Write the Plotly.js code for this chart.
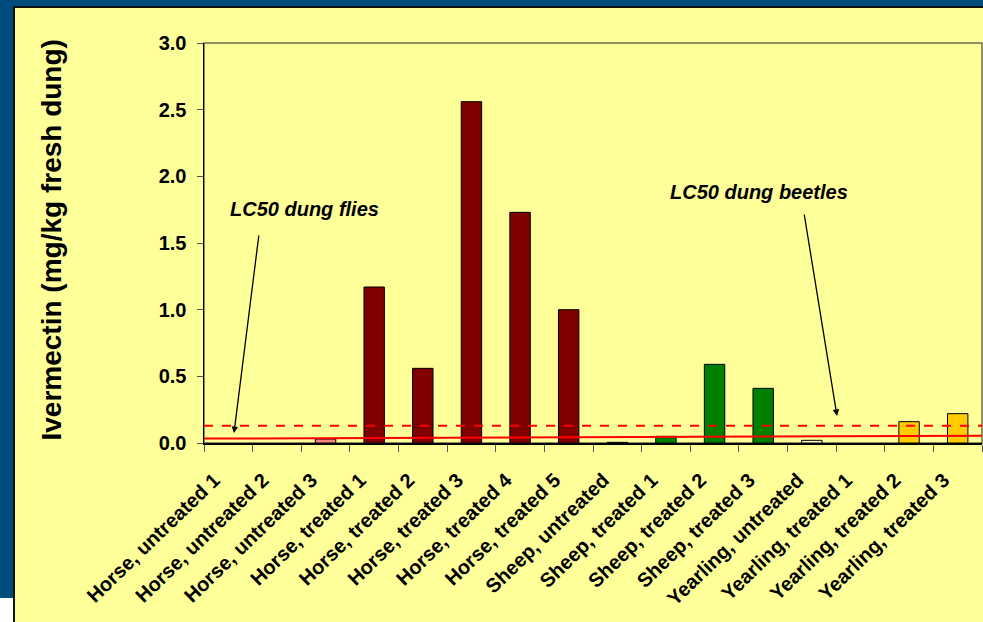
<!DOCTYPE html>
<html>
<head>
<meta charset="utf-8">
<script src="https://cdn.plot.ly/plotly-3.0.1.min.js"></script>
<style>
  html, body { margin: 0; padding: 0; background: #004B7D; }
  #chart { width: 983px; height: 622px; }
</style>
</head>
<body>
<div id="chart"></div>
<script>
// ---- data ----
const categories = [
  "Horse, untreated 1", "Horse, untreated 2", "Horse, untreated 3",
  "Horse, treated 1", "Horse, treated 2", "Horse, treated 3", "Horse, treated 4", "Horse, treated 5",
  "Sheep, untreated", "Sheep, treated 1", "Sheep, treated 2", "Sheep, treated 3",
  "Yearling, untreated", "Yearling, treated 1", "Yearling, treated 2", "Yearling, treated 3"
];
const ivermectin = [0, 0, 0.03, 1.17, 0.56, 2.56, 1.73, 1.00, 0.005, 0.05, 0.59, 0.41, 0.02, 0, 0.16, 0.22];
const lc50DungFlies = [0.033, 0.055];   // solid line, left end / right end
const lc50DungBeetles = 0.13;           // dashed line
const yTickValues = [0, 0.5, 1.0, 1.5, 2.0, 2.5, 3.0];

// ---- styling ----
function colourOf(cat) {
  if (cat.startsWith("Horse, untreated")) return "#FF8080";
  if (cat.startsWith("Horse")) return "#800000";
  if (cat.startsWith("Sheep")) return "#008000";
  if (cat.startsWith("Yearling, untreated")) return "#FFFFCC";
  return "#FFCC00";
}

// plot area: left 204, right 982, top 43, bottom 443 (px)
const L = 204, R = 982, T = 43, B = 443, W = 983, H = 622;
const px2x = p => (p - L) / (R - L);
const py2y = p => (B - p) / (B - T);

const trace = {
  type: "bar",
  x: categories,
  y: ivermectin,
  width: 0.42,
  marker: {
    color: categories.map(colourOf),
    line: { color: "#000000", width: ivermectin.map(v => v > 0 ? 1 : 0) }
  },
  hoverinfo: "x+y"
};

const font = "Arial, 'Liberation Sans', sans-serif";

const layout = {
  width: W, height: H,
  margin: { l: L, r: W - R, t: T, b: H - B, pad: 0 },
  paper_bgcolor: "#004B7D",
  plot_bgcolor: "rgba(0,0,0,0)",
  showlegend: false,
  font: { family: font, color: "#000000" },
  xaxis: {
    type: "category",
    range: [-0.5, 15.5],
    tickson: "boundaries",
    ticks: "outside", ticklen: 7, tickcolor: "#555555", tickwidth: 1,
    tickangle: -44,
    ticklabelstandoff: 16,
    ticklabelshift: -14,
    tickfont: { family: font, size: 20, color: "#000000", weight: "bold" },
    showline: true, linecolor: "#000000", linewidth: 1.5,
    showgrid: false, zeroline: false, fixedrange: true
  },
  yaxis: {
    range: [0, 3],
    tickvals: yTickValues,
    tickformat: ".1f",
    ticks: "outside", ticklen: 6, tickcolor: "#555555", tickwidth: 1,
    ticklabelstandoff: 6,
    tickfont: { family: font, size: 20, color: "#000000", weight: "bold" },
    showline: true, linecolor: "#000000", linewidth: 1.5,
    showgrid: false, zeroline: false, fixedrange: true
  },
  shapes: [
    // yellow chart panel
    { type: "rect", xref: "paper", yref: "paper", layer: "below",
      x0: px2x(14), x1: px2x(1000), y0: py2y(640), y1: py2y(7),
      fillcolor: "#FFFF99", line: { color: "#111111", width: 2 } },
    // white corner bottom-left
    { type: "rect", xref: "paper", yref: "paper", layer: "below",
      x0: px2x(-5), x1: px2x(13), y0: py2y(640), y1: py2y(598),
      fillcolor: "#FFFFFF", line: { width: 0 } },
    // plot frame
    { type: "rect", xref: "paper", yref: "paper", layer: "below",
      x0: 0, x1: 1, y0: 0, y1: 1,
      line: { color: "#6B6B50", width: 1.5 } },
    // LC50 dung beetles (dashed)
    { type: "line", xref: "paper", yref: "y", layer: "above",
      x0: 0, x1: 1, y0: lc50DungBeetles, y1: lc50DungBeetles,
      line: { color: "#FF0000", width: 2, dash: "dash" } },
    // LC50 dung flies (solid)
    { type: "line", xref: "paper", yref: "y", layer: "above",
      x0: 0, x1: 1, y0: lc50DungFlies[0], y1: lc50DungFlies[1],
      line: { color: "#FF0000", width: 2 } }
  ],
  annotations: [
    { xref: "paper", yref: "paper", x: px2x(51), y: py2y(240.5),
      text: "<b>Ivermectin (mg/kg fresh dung)</b>", textangle: -90, showarrow: false,
      xanchor: "center", yanchor: "middle",
      font: { family: font, size: 28, color: "#000000" } },
    { xref: "paper", yref: "paper", x: px2x(304), y: py2y(209),
      text: "<b><i>LC50 dung flies</i></b>", showarrow: false,
      xanchor: "center", yanchor: "middle",
      font: { family: font, size: 20, color: "#000000" } },
    { xref: "paper", yref: "paper", x: px2x(759), y: py2y(192),
      text: "<b><i>LC50 dung beetles</i></b>", showarrow: false,
      xanchor: "center", yanchor: "middle",
      font: { family: font, size: 20, color: "#000000" } },
    // arrows
    { xref: "paper", yref: "paper", x: px2x(234), y: py2y(433),
      axref: "paper", ayref: "paper", ax: px2x(259), ay: py2y(234),
      text: "", showarrow: true, arrowhead: 2, arrowsize: 1, arrowwidth: 1.3, arrowcolor: "#000000" },
    { xref: "paper", yref: "paper", x: px2x(837), y: py2y(416),
      axref: "paper", ayref: "paper", ax: px2x(804), ay: py2y(213),
      text: "", showarrow: true, arrowhead: 2, arrowsize: 1, arrowwidth: 1.3, arrowcolor: "#000000" }
  ]
};

Plotly.newPlot("chart", [trace], layout, { displayModeBar: false, staticPlot: true });
</script>
</body>
</html>
